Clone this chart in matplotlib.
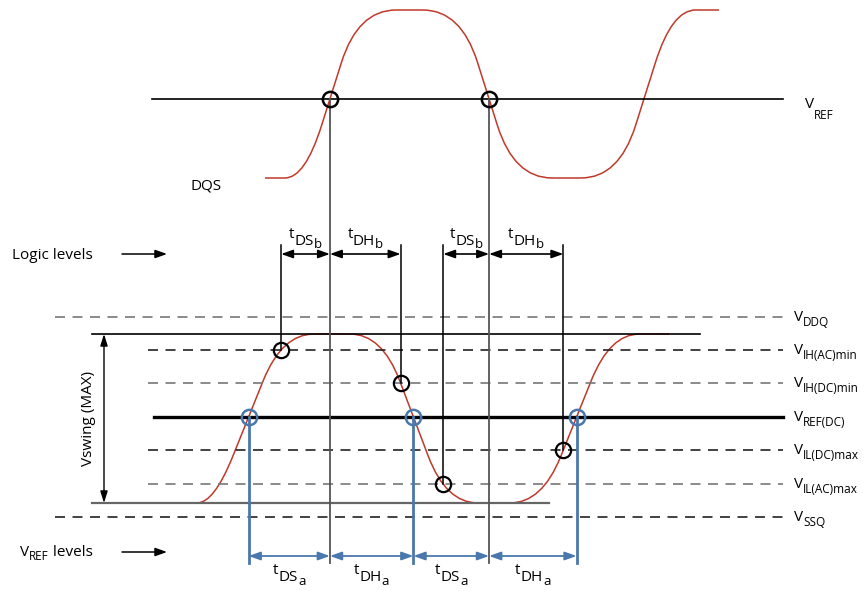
import numpy as np
import matplotlib.pyplot as plt
from matplotlib.path import Path
from matplotlib.patches import PathPatch

plt.rcParams['font.family'] = ['Open Sans', 'DejaVu Sans']

# diagram units: x = time, y = level (drawn top-down like the picture)
# DQS strobe
dqs_low, dqs_high, dqs_vref = 178, 10, 99
dqs_start, dqs_end = 265, 719
dqs_edges = [(305, 358), (461, 514), (619, 672)]   # (start, end) of each ramp

# DQ data signal
dq_low, dq_high = 503, 334
dq_start, dq_end = 180, 669
dq_edges = [(214, 282), (382, 446), (542, 610)]

# input levels
level_names = ['DDQ', 'IH(AC)min', 'IH(DC)min', 'REF(DC)', 'IL(DC)max', 'IL(AC)max', 'SSQ']
level_y = [317, 350, 383, 417, 450, 484, 517]

red = '#c0392b'
blue = '#4a78ad'

fig = plt.figure(figsize=(8.67, 5.91), dpi=100)
ax = fig.add_axes([0, 0, 1, 1])
ax.set_xlim(0, 867)
ax.set_ylim(591, 0)
ax.axis('off')


def wave_path(x0, x1, edges, low, high, r_flat, r_ramp):
    # trapezoid wave starting low, corners rounded with quadratic curves
    pts = [(x0, low)]
    lvl = [low, high]
    for i, (a, b) in enumerate(edges):
        pts.append((a, lvl[i % 2]))
        pts.append((b, lvl[(i + 1) % 2]))
    pts.append((x1, lvl[len(edges) % 2]))
    pts = np.array(pts, float)
    verts, codes = [pts[0]], [Path.MOVETO]
    for i in range(1, len(pts) - 1):
        p, c, n = pts[i - 1], pts[i], pts[i + 1]
        d1, d2 = p - c, n - c
        r1 = r_flat if d1[1] == 0 else r_ramp
        r2 = r_flat if d2[1] == 0 else r_ramp
        A = c + d1 * min(r1 / np.hypot(*d1), 0.5)
        B = c + d2 * min(r2 / np.hypot(*d2), 0.5)
        verts += [A, c, B]
        codes += [Path.LINETO, Path.CURVE3, Path.CURVE3]
    verts.append(pts[-1])
    codes.append(Path.LINETO)
    return Path(verts, codes)


def crossing(path, level, xlo, xhi):
    poly = path.to_polygons(closed_only=False)[0]
    xs, ys = poly[:, 0], poly[:, 1]
    for i in range(len(xs) - 1):
        if xs[i] < xlo or xs[i] > xhi:
            continue
        if (ys[i] - level) * (ys[i + 1] - level) <= 0 and ys[i] != ys[i + 1]:
            f = (level - ys[i]) / (ys[i + 1] - ys[i])
            return xs[i] + f * (xs[i + 1] - xs[i])
    return None


def stacked_text(x, y, pieces, sizes, drops, color='black', ha='left'):
    texts = [ax.text(0, y + d, s, fontsize=fs, color=color, va='baseline', ha='left')
             for s, fs, d in zip(pieces, sizes, drops)]
    r = fig.canvas.get_renderer()
    widths = [t.get_window_extent(r).width for t in texts]
    x0 = x - sum(widths) / 2 if ha == 'center' else x
    for t, w in zip(texts, widths):
        t.set_x(x0)
        x0 += w


def arrow(x0, y0, x1, y1, color, lw=1.2, style='<|-|>', hw=0.25):
    ax.annotate('', xy=(x1, y1), xytext=(x0, y0),
                arrowprops=dict(arrowstyle=style + ',head_length=0.7,head_width=%s' % hw,
                                color=color, lw=lw, shrinkA=0, shrinkB=0, mutation_scale=10))


dqs = wave_path(dqs_start, dqs_end, dqs_edges, dqs_low, dqs_high, 38, 55)
dq = wave_path(dq_start, dq_end, dq_edges, dq_low, dq_high, 32, 50)

# level lines
ax.plot([152, 783], [dqs_vref, dqs_vref], color='black', lw=1.2)
dash = (0, (6, 4.5))
for name, y in zip(level_names, level_y):
    if name == 'REF(DC)':
        ax.plot([154, 783], [y, y], color='black', lw=2.4)
    else:
        x_from = 55 if name in ('DDQ', 'SSQ') else 148
        col = '#777777' if name in ('DDQ', 'IH(DC)min', 'IL(AC)max') else '#222222'
        ax.plot([x_from, 783], [y, y], color=col, lw=1.2, ls=dash)
    stacked_text(794, y + 4, ['V', name], [11, 8.5], [0, 5])

ax.plot([92, 700], [dq_high, dq_high], color='black', lw=1.2)
ax.plot([92, 549], [dq_low, dq_low], color='#666666', lw=1.6)

ax.add_patch(PathPatch(dqs, fill=False, edgecolor=red, lw=1.1))
ax.add_patch(PathPatch(dq, fill=False, edgecolor=red, lw=1.1))

vref_dc = level_y[3]
# DQS reference crossings
strobe = [crossing(dqs, dqs_vref, a - 60, b + 60) for a, b in dqs_edges[:2]]
# DQ crossings of logic levels and of VREF(DC)
logic = [crossing(dq, level_y[1], *dq_edges[0]),
         crossing(dq, level_y[2], *dq_edges[1]),
         crossing(dq, level_y[5], dq_edges[1][0], dq_edges[1][1] + 40),
         crossing(dq, level_y[4], *dq_edges[2])]
logic_y = [level_y[1], level_y[2], level_y[5], level_y[4]]
refx = [crossing(dq, vref_dc, a, b) for a, b in dq_edges]

y_top_b, y_arrow_b = 245, 254
y_arrow_a, y_bot = 556, 563

for x in strobe:
    ax.plot([x, x], [dqs_vref, y_bot], color='#555555', lw=1.3)
for x, y in zip(logic, logic_y):
    ax.plot([x, x], [y_top_b, y], color='black', lw=1.1)
for x in refx:
    ax.plot([x, x], [vref_dc, y_bot], color=blue, lw=2)

ax.plot(strobe, [dqs_vref] * 2, 'o', ms=11, mfc='none', mec='black', mew=1.8)
ax.plot(logic, logic_y, 'o', ms=11, mfc='none', mec='black', mew=1.6)
ax.plot(refx, [vref_dc] * 3, 'o', ms=11, mfc='none', mec=blue, mew=1.8)

spans_b = [(logic[0], strobe[0], 'DS'), (strobe[0], logic[1], 'DH'),
           (logic[2], strobe[1], 'DS'), (strobe[1], logic[3], 'DH')]
for x0, x1, name in spans_b:
    arrow(x0, y_arrow_b, x1, y_arrow_b, 'black')
    stacked_text((x0 + x1) / 2, 238, ['t', name, 'b'], [11, 11, 9.5], [0, 7, 10], ha='center')

spans_a = [(refx[0], strobe[0], 'DS'), (strobe[0], refx[1], 'DH'),
           (refx[1], strobe[1], 'DS'), (strobe[1], refx[2], 'DH')]
for x0, x1, name in spans_a:
    arrow(x0, y_arrow_a, x1, y_arrow_a, blue, lw=1.3)
    stacked_text((x0 + x1) / 2, 574, ['t', name, 'a'], [11, 11, 9.5], [0, 7, 11], ha='center')

# side labels
stacked_text(805, 108, ['V', 'REF'], [11, 8.5], [0, 11])
ax.text(191, 189, 'DQS', fontsize=11, va='baseline')
ax.text(12, 259, 'Logic levels', fontsize=11, va='baseline')
arrow(122, 254, 167, 254, 'black', lw=1.1, style='-|>')
stacked_text(20, 556, ['V', 'REF', ' levels'], [11, 8.5, 11], [0, 4, 0])
arrow(122, 552, 167, 552, 'black', lw=1.1, style='-|>')

arrow(104, dq_high, 104, dq_low, 'black', lw=1, hw=0.22)
ax.text(89, 418, 'Vswing (MAX)', fontsize=11, rotation=90, ha='center', va='center')

fig.savefig('out.png', dpi=100)
